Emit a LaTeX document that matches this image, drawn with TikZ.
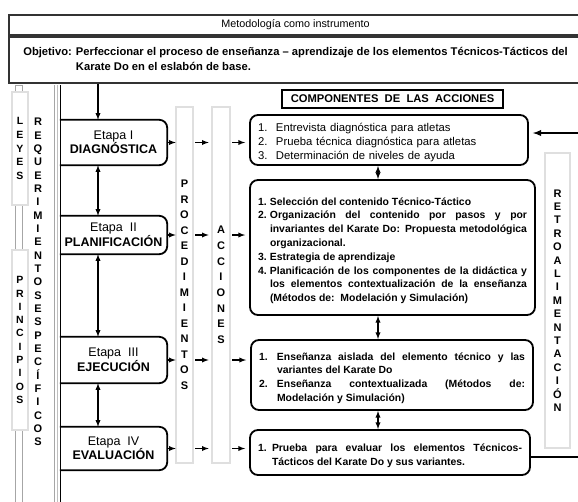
\documentclass[tikz,border=0pt]{standalone}
\usepackage{fontspec}
\setmainfont{Liberation Sans}
\usetikzlibrary{arrows}
\newcommand{\nitem}[2]{\par\noindent\hangindent=#1\hangafter=1\makebox[#1][l]{#2}\ignorespaces}

\begin{document}
\begin{tikzpicture}[x=1pt,y=-1pt]
		\tikzstyle{every node}+=[inner sep=0pt]
		\tikzstyle{flecha}=[-latex, line width=1.3pt]
		\tikzstyle{dflecha}=[latex-latex, line width=1.3pt]
		\tikzstyle{barra}=[draw=gray!80, line width=0.6pt, double=gray!25, double distance=1.2pt, fill=white, align=center, font=\bfseries\fontsize{11}{15.5}\selectfont]
		\tikzstyle{caja}=[draw, rounded corners=8pt, line width=1.8pt, align=justify, inner xsep=8pt, font=\bfseries\fontsize{10.4}{13.8}\selectfont]
		\tikzstyle{etapa}=[minimum width=107pt, align=center, font=\fontsize{12.5}{14.5}\selectfont]
		\tikzstyle{borde}=[line width=1.8pt, rounded corners=8pt]
		\useasboundingbox (0,0) rectangle (578,501);
		% cabecera
		\node[draw=black!80, line width=1.5pt, minimum width=573pt, minimum height=20pt, font=\fontsize{10.8}{12}\selectfont] (titulo) at (295.5,25) {Metodología como instrumento};
		\node[draw=black!80, line width=1.5pt, minimum width=573pt, minimum height=46pt, font=\bfseries\fontsize{11.2}{14.5}\selectfont] (obj) at (295.5,60) {\begin{tabular}{@{}l@{ }l@{}}Objetivo: & Perfeccionar el proceso de enseñanza – aprendizaje de los elementos Técnicos-Tácticos del\\ & Karate Do en el eslabón de base.\end{tabular}};
		% columna izquierda
		\draw[gray!70, line width=0.6pt] (15,85) rectangle (22,510);
		\draw[gray!70, line width=0.6pt] (54,85) -- (54,510);
		\draw[gray!50, line width=1pt] (57.5,85) -- (57.5,510);
		\draw[line width=1pt] (60.5,85) -- (60.5,510);
		\node[barra, minimum width=16pt, minimum height=113pt, font=\bfseries\fontsize{10.5}{13.7}\selectfont] (leyes) at (20,148.5) {L\\E\\Y\\E\\S};
		\node[barra, minimum width=16pt, minimum height=180pt, font=\bfseries\fontsize{10.5}{13.3}\selectfont] (princ) at (20,340) {P\\R\\I\\N\\C\\I\\P\\I\\O\\S};
		\node[align=center, font=\bfseries\fontsize{11}{13.33}\selectfont] (req) at (38,282) {R\\E\\Q\\U\\E\\R\\I\\M\\I\\E\\N\\T\\O\\S\\E\\S\\P\\E\\C\\Í\\F\\I\\C\\O\\S};
		% etapas
		\node[etapa, minimum height=45pt] (e1) at (113.5,142.5) {Etapa I\\\textbf{DIAGNÓSTICA}};
		\node[etapa, minimum height=38pt] (e2) at (113.5,235) {Etapa\ \ II\\\textbf{PLANIFICACIÓN}};
		\node[etapa, minimum height=46pt] (e3) at (113.5,360) {Etapa\ \ III\\\textbf{EJECUCIÓN}};
		\node[etapa, minimum height=43pt] (e4) at (113.5,448.5) {Etapa\ \ IV\\\textbf{EVALUACIÓN}};
		\foreach \e in {e1,e2,e3,e4}
			\draw[borde] (\e.north west) -| (\e.south east) -- (\e.south west);
		% barras
		\node[barra, minimum width=17pt, minimum height=356pt] (proc) at (184.5,285) {P\\R\\O\\C\\E\\D\\I\\M\\I\\E\\N\\T\\O\\S};
		\node[barra, minimum width=18pt, minimum height=356pt, font=\bfseries\fontsize{11}{15.7}\selectfont] (acc) at (221,285) {A\\C\\C\\I\\O\\N\\E\\S};
		\node[barra, minimum width=25pt, minimum height=295pt, font=\bfseries\fontsize{11}{13.4}\selectfont] (retro) at (557.5,300.5) {R\\E\\T\\R\\O\\A\\L\\I\\M\\E\\N\\T\\A\\C\\I\\Ó\\N};
		% componentes
		\node[draw, line width=2pt, minimum width=221pt, minimum height=18pt, font=\bfseries\fontsize{11.2}{12}\selectfont] (comp) at (392.5,99) {COMPONENTES\ \ DE\ \ LAS\ \ ACCIONES};
		\node[caja, text width=262pt, minimum height=50pt, align=left, font=\fontsize{11.3}{14}\selectfont] (c1) at (389,140) {\nitem{18pt}{1.}Entrevista diagnóstica para atletas \nitem{18pt}{2.}Prueba técnica diagnóstica para atletas \nitem{18pt}{3.}Determinación de niveles de ayuda\par};
		\node[caja, text width=269pt, minimum height=135pt] (c2) at (392.5,247.5) {\nitem{12pt}{1.}Selección del contenido Técnico-Táctico
			\nitem{12pt}{2.}Organización del contenido por pasos y por\linebreak invariantes del Karate Do: Propuesta metodológica\linebreak organizacional.
			\nitem{12pt}{3.}Estrategia de aprendizaje
			\nitem{12pt}{4.}Planificación de los componentes de la didáctica y\linebreak los elementos contextualización de la enseñanza\linebreak (Métodos de:\ \ Modelación y Simulación)\par};
		\node[caja, text width=266pt, minimum height=70pt] (c3) at (392,375) {\nitem{18pt}{1.}Enseñanza aislada del elemento técnico y las\linebreak variantes del Karate Do
			\nitem{18pt}{2.}Enseñanza contextualizada (Métodos de:\linebreak Modelación y Simulación)\par};
		\node[caja, text width=264pt, minimum height=45pt] (c4) at (390,452.5) {\nitem{14pt}{1.}Prueba para evaluar los elementos Técnicos-\linebreak Tácticos del Karate Do y sus variantes.\par};
		% flechas
		\coordinate (a1) at (98,0);
		\coordinate (a2) at (378,0);
		\draw[flecha] (obj.south -| a1) -- (e1.north -| a1);
		\draw[dflecha] (e1.south -| a1) -- (e2.north -| a1);
		\draw[dflecha] (e2.south -| a1) -- (e3.north -| a1);
		\draw[dflecha] (e3.south -| a1) -- (e4.north -| a1);
		\draw[dflecha] (c1.south -| a2) -- (c2.north -| a2);
		\draw[dflecha] (c2.south -| a2) -- (c3.north -| a2);
		\draw[dflecha] (c3.south -| a2) -- (c4.north -| a2);
		\foreach \e/\c in {e1/c1,e2/c2,e3/c3,e4/c4} {
			\draw[flecha] (\e.east) -- (\e.east -| proc.west);
			\draw[flecha, shorten <=2pt, shorten >=3pt] (\e.east -| proc.east) -- (\e.east -| acc.west);
			\draw[flecha, shorten <=2pt, shorten >=4pt] (\e.east -| acc.east) -- (\e.east -| \c.west);
		}
		% retroalimentacion
		\coordinate (r0) at (583,457);
		\coordinate (r1) at (583,133);
		\draw[flecha, line width=1.8pt, shorten >=4pt] (r0 -| c4.east) -- (r0) -- (r1) -- (r1 -| c1.east);
	\end{tikzpicture}
\end{document}
